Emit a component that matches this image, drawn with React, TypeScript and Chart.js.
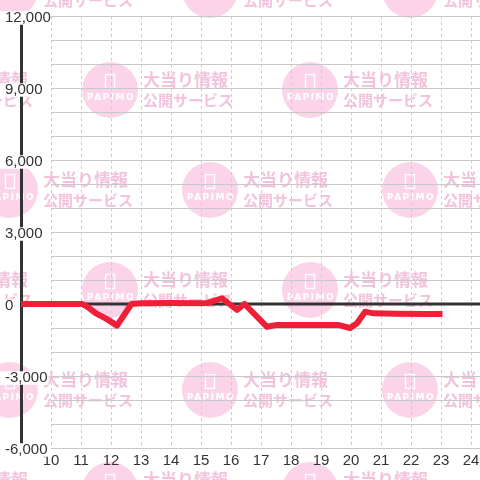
import React, { useEffect, useRef } from 'react';
import { Chart, registerables } from 'chart.js';

Chart.register(...registerables);

// Time of day (hours) and running balance
const hours = [9, 11.05, 11.25, 11.5, 11.85, 12.2, 12.68, 13, 14, 15, 15.2, 15.7, 16.2, 16.45, 17.2, 17.5, 18, 19, 19.6, 19.97, 20.2, 20.47, 20.75, 21.5, 22.5, 22.95];
const balance = [0, 0, -150, -390, -620, -900, 0, 30, 40, 30, 40, 240, -250, 0, -950, -880, -880, -880, -880, -1000, -800, -320, -390, -410, -420, -420];

const yMin = -6000;
const yMax = 12000;
const yLabelStep = 3000;
const yGridStep = 1000;
const xMin = 9;
const xMax = 24.3;
const xTickHours = [10, 11, 12, 13, 14, 15, 16, 17, 18, 19, 20, 21, 22, 23, 24];

const FONT = '"Liberation Sans", Arial, sans-serif';
const CJK = '"Noto Sans CJK JP", "Noto Sans CJK SC", sans-serif';

const watermarkPlugin = {
  id: 'watermark',
  beforeDraw(chart: any) {
    const ctx: CanvasRenderingContext2D = chart.ctx;
    ctx.save();
    const rows = [-10, 90, 190, 290, 390, 490];
    rows.forEach((cy, r) => {
      const start = r % 2 === 0 ? 10 : 110;
      for (let cx = start - 200; cx <= 560; cx += 200) {
        ctx.fillStyle = '#fbd4ea';
        ctx.beginPath();
        ctx.arc(cx, cy, 28, 0, Math.PI * 2);
        ctx.fill();
        ctx.strokeStyle = '#ffffff';
        ctx.lineWidth = 1.3;
        ctx.strokeRect(cx - 4.5, cy - 15.5, 9, 14);
        ctx.fillStyle = '#ffffff';
        ctx.font = 'bold 9px "DejaVu Sans", sans-serif';
        (ctx as any).letterSpacing = '1.5px';
        ctx.textAlign = 'center';
        ctx.textBaseline = 'middle';
        ctx.fillText('PAPIMO', cx + 1, cy + 8);
        (ctx as any).letterSpacing = '0px';
        ctx.fillStyle = '#f3c3dd';
        ctx.textAlign = 'left';
        ctx.font = `bold 17px ${CJK}`;
        ctx.fillText('大当り情報', cx + 33, cy - 10);
        ctx.font = `bold 15px ${CJK}`;
        ctx.fillText('公開サービス', cx + 33, cy + 10);
      }
    });
    ctx.restore();
  },
};

const gridPlugin = {
  id: 'customGrid',
  beforeDatasetsDraw(chart: any) {
    const ctx: CanvasRenderingContext2D = chart.ctx;
    const { chartArea } = chart;
    const x = chart.scales.x;
    const y = chart.scales.y;
    ctx.save();
    const gridLeft = x.getPixelForValue(xTickHours[0]);
    ctx.lineWidth = 1;
    ctx.strokeStyle = '#c8c8c8';
    ctx.setLineDash([]);
    for (let v = yMin; v <= yMax; v += yGridStep) {
      const py = Math.round(y.getPixelForValue(v)) + 0.5;
      ctx.beginPath();
      ctx.moveTo(gridLeft, py);
      ctx.lineTo(chartArea.right, py);
      ctx.stroke();
    }
    ctx.strokeStyle = '#cccccc';
    ctx.setLineDash([3, 3]);
    for (const h of xTickHours) {
      const px = Math.round(x.getPixelForValue(h)) + 0.5;
      ctx.beginPath();
      ctx.moveTo(px, chartArea.top);
      ctx.lineTo(px, chartArea.bottom);
      ctx.stroke();
    }
    ctx.setLineDash([]);
    ctx.strokeStyle = '#333333';
    ctx.lineWidth = 3;
    const zy = y.getPixelForValue(0);
    ctx.beginPath();
    ctx.moveTo(chartArea.left, zy);
    ctx.lineTo(chartArea.right, zy);
    ctx.stroke();
    ctx.restore();
  },
};

export default function App() {
  const ref = useRef<HTMLCanvasElement>(null);
  useEffect(() => {
    const canvas = ref.current;
    if (!canvas) return;
    const chart = new Chart(canvas, {
      type: 'line',
      data: {
        datasets: [
          {
            data: hours.map((h, i) => ({ x: h, y: balance[i] })),
            borderColor: '#ee1f37',
            borderWidth: 6,
            pointRadius: 0,
            tension: 0,
            fill: false,
            borderJoinStyle: 'round',
            borderCapStyle: 'square',
          },
        ],
      },
      options: {
        animation: false,
        responsive: false,
        maintainAspectRatio: false,
        layout: { padding: { top: 16, left: 0, right: 0, bottom: 0 } },
        plugins: { legend: { display: false }, tooltip: { enabled: false } },
        scales: {
          x: {
            type: 'linear',
            min: xMin,
            max: xMax,
            grid: { display: false, drawTicks: false },
            border: { display: false },
            ticks: {
              stepSize: 1,
              includeBounds: false,
              autoSkip: false,
              maxRotation: 0,
              padding: 4,
              color: '#333',
              font: { family: FONT, size: 15 },
              callback: (v: any) => (xTickHours.includes(Number(v)) ? String(v) : ''),
            },
            afterFit: (s: any) => {
              s.height = 32;
              s.paddingLeft = 0;
              s.paddingRight = 0;
            },
          },
          y: {
            type: 'linear',
            min: yMin,
            max: yMax,
            grid: { display: true, color: 'rgba(0,0,0,0)', drawTicks: false },
            border: { display: true, color: '#333333', width: 3 },
            ticks: {
              stepSize: yLabelStep,
              mirror: true,
              padding: -16,
              labelOffset: 2,
              color: '#333',
              font: { family: FONT, size: 15, lineHeight: 0.9 },
              showLabelBackdrop: true,
              backdropColor: '#ffffff',
              backdropPadding: { top: 0, bottom: 0, left: 5, right: 1 },
              callback: (v: any) => Number(v).toLocaleString('en-US'),
            },
            afterFit: (s: any) => {
              s.width = 21;
              s.paddingTop = 0;
              s.paddingBottom = 0;
            },
          },
        },
      },
      plugins: [watermarkPlugin, gridPlugin],
    } as any);
    return () => chart.destroy();
  }, []);
  return (
    <div style={{ position: 'absolute', left: 0, top: 0, width: 480, height: 480 }}>
      <canvas ref={ref} width={480} height={480} style={{ display: 'block' }} />
    </div>
  );
}
